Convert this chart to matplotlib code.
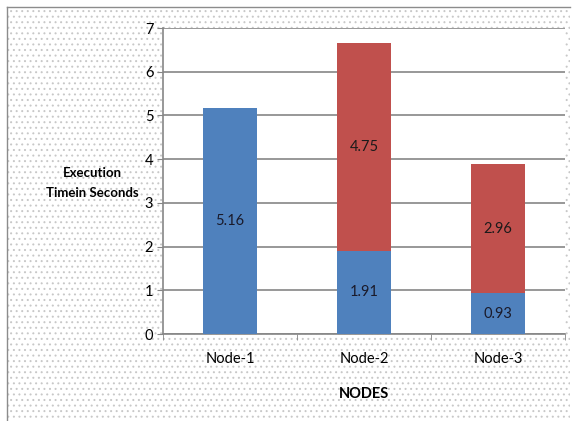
import numpy as np
import matplotlib.pyplot as plt
from matplotlib.patches import Rectangle

plt.rcParams['font.family'] = ['Lato', 'DejaVu Sans']

# execution time per node, split in two stacked parts
nodes = ['Node-1', 'Node-2', 'Node-3']
lower = [5.16, 1.91, 0.93]
upper = [0.0, 4.75, 2.96]
yticks = [0, 1, 2, 3, 4, 5, 6, 7]

blue = '#4F81BD'
red = '#C0504D'
grey = '#868686'

fig = plt.figure(figsize=(5.77, 4.21), dpi=100)
fig.patch.set_facecolor('white')

# dotted chart background with a thin frame on the left and top
plt.rcParams['hatch.linewidth'] = 0.7
bg = Rectangle((7 / 577, 0), (570 - 7) / 577, 1 - 7 / 421, transform=fig.transFigure,
               facecolor='white', edgecolor='#c8c8c8', hatch='...', linewidth=0, zorder=-2)
fig.patches.append(bg)
fig.add_artist(plt.Line2D([7 / 577, 7 / 577], [0, 1 - 7 / 421], color='#8c8c8c', lw=1.0,
                          transform=fig.transFigure))
fig.add_artist(plt.Line2D([7 / 577, 570 / 577], [1 - 7 / 421, 1 - 7 / 421], color='#8c8c8c', lw=1.0,
                          transform=fig.transFigure))

ax = fig.add_axes([163 / 577, 1 - 334 / 421, (565 - 163) / 577, (334 - 28) / 421])
ax.set_facecolor('white')

x = np.arange(len(nodes))
w = 0.4
ax.bar(x, lower, w, color=blue, zorder=3)
ax.bar(x, upper, w, bottom=lower, color=red, zorder=3)

# value labels in the middle of each segment
for i in range(len(nodes)):
    ax.text(x[i], lower[i] / 2, f'{lower[i]:.2f}', ha='center', va='center',
            fontsize=10.5, color='#1a1a2a', zorder=4)
    if upper[i] > 0:
        ax.text(x[i], lower[i] + upper[i] / 2, f'{upper[i]:.2f}', ha='center', va='center',
                fontsize=10.5, color='#1a1a1a', zorder=4)

ax.set_xlim(-0.5, len(nodes) - 0.5)
ax.set_ylim(0, 7)
ax.set_yticks(yticks)
ax.yaxis.grid(True, color=grey, lw=1.2, zorder=0)
ax.set_axisbelow(True)

ax.set_xticks(x)
ax.set_xticklabels(nodes, fontsize=10.5)
ax.set_xticks(np.arange(-0.5, len(nodes)), minor=True)
ax.tick_params(axis='x', which='major', length=0, pad=13)
ax.tick_params(axis='x', which='minor', length=4, color=grey, direction='out')
ax.tick_params(axis='y', length=4, color=grey, direction='out', labelsize=10.5, pad=3)

for s in ['top', 'right']:
    ax.spines[s].set_visible(False)
for s in ['left', 'bottom']:
    ax.spines[s].set_color(grey)
    ax.spines[s].set_linewidth(1.2)

ax.set_xlabel('NODES', fontsize=10.5, fontweight='bold', labelpad=15)
fig.text(92 / 577, 1 - 183 / 421, 'Execution\nTimein Seconds', ha='center', va='center',
         fontsize=9.5, fontweight='bold', linespacing=1.75)

fig.savefig('out.png', dpi=100)
